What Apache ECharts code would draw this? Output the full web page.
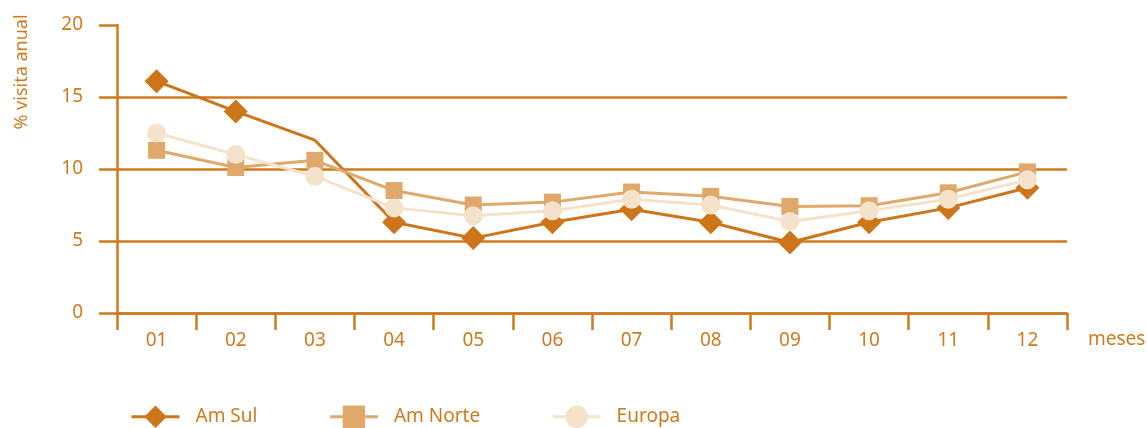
<!DOCTYPE html>
<html>
<head>
<meta charset="utf-8">
<script src="https://cdn.jsdelivr.net/npm/echarts@6/dist/echarts.min.js"></script>
<style>
  html, body { margin: 0; padding: 0; background: #fff; }
  #main { width: 1147px; height: 428px; }
</style>
</head>
<body>
<div id="main"></div>
<script>
var meses = ['01', '02', '03', '04', '05', '06', '07', '08', '09', '10', '11', '12'];
var amSul = [16.1, 14.0, 12.0, 6.3, 5.2, 6.3, 7.2, 6.3, 4.9, 6.3, 7.3, 8.7];
var amNorte = [11.3, 10.1, 10.6, 8.5, 7.5, 7.7, 8.4, 8.1, 7.4, 7.45, 8.35, 9.8];
var europa = [12.5, 11.0, 9.5, 7.3, 6.75, 7.1, 7.9, 7.5, 6.35, 7.1, 7.9, 9.25];

var orange = '#d07a1c';
var font = 'Noto Sans';
var fs = 19;

// no marker on Am Sul at month 03 (as in the original)
var amSulData = amSul.map(function (v, i) {
    return i === 2 ? { value: v, symbol: 'none' } : v;
});

var myChart = echarts.init(document.querySelector('#main'));

var option = {
    animation: false,
    textStyle: { fontFamily: font },
    grid: { left: 117, right: 80, top: 25, bottom: 115, outerBoundsMode: 'none', containLabel: false },
    graphic: [
        {
            type: 'text',
            x: 22,
            y: 72,
            rotation: Math.PI / 2,
            style: {
                text: '% visita anual',
                fill: orange,
                font: '18px "' + font + '"',
                align: 'center',
                verticalAlign: 'middle'
            }
        }
    ],
    legend: {
        left: 130,
        bottom: 0,
        padding: 0,
        itemWidth: 48,
        itemHeight: 28,
        itemGap: 71,
        data: ['Am Sul', 'Am Norte', 'Europa'],
        lineStyle: { width: 3 },
        textStyle: { color: orange, fontSize: fs, fontFamily: font, padding: [0, 0, 0, 11] }
    },
    xAxis: {
        type: 'category',
        data: meses,
        boundaryGap: true,
        name: 'meses',
        nameLocation: 'end',
        nameGap: 21,
        nameTextStyle: { color: orange, fontSize: fs, verticalAlign: 'top', padding: [17, 0, 0, 0] },
        axisLine: { lineStyle: { color: orange, width: 2.5 } },
        axisTick: { show: true, interval: 0, length: 17, lineStyle: { color: orange, width: 2.5 } },
        axisLabel: { color: orange, fontSize: fs, margin: 18, interval: 0 },
        splitLine: { show: false }
    },
    yAxis: {
        type: 'value',
        min: 0,
        max: 20,
        interval: 5,
        axisLine: { show: true, lineStyle: { color: orange, width: 2.5 } },
        axisTick: { show: true, length: 18, lineStyle: { color: orange, width: 2.5 } },
        axisLabel: { color: orange, fontSize: fs, margin: 34 },
        splitLine: {
            show: true,
            lineStyle: { color: [orange, orange, orange, orange, 'rgba(0,0,0,0)'], width: 2.5 }
        }
    },
    series: [
        {
            name: 'Am Sul',
            type: 'line',
            data: amSulData,
            symbol: 'diamond',
            symbolSize: 24,
            lineStyle: { color: '#cd7518', width: 3 },
            itemStyle: { color: '#cd7518' }
        },
        {
            name: 'Am Norte',
            type: 'line',
            data: amNorte,
            symbol: 'rect',
            symbolSize: 17,
            lineStyle: { color: '#e0a86a', width: 3 },
            itemStyle: { color: '#e0a86a' }
        },
        {
            name: 'Europa',
            type: 'line',
            data: europa,
            symbol: 'circle',
            symbolSize: 19,
            lineStyle: { color: '#f5e2cb', width: 3 },
            itemStyle: { color: '#f5e2cb' }
        }
    ]
};

myChart.setOption(option);
</script>
</body>
</html>
